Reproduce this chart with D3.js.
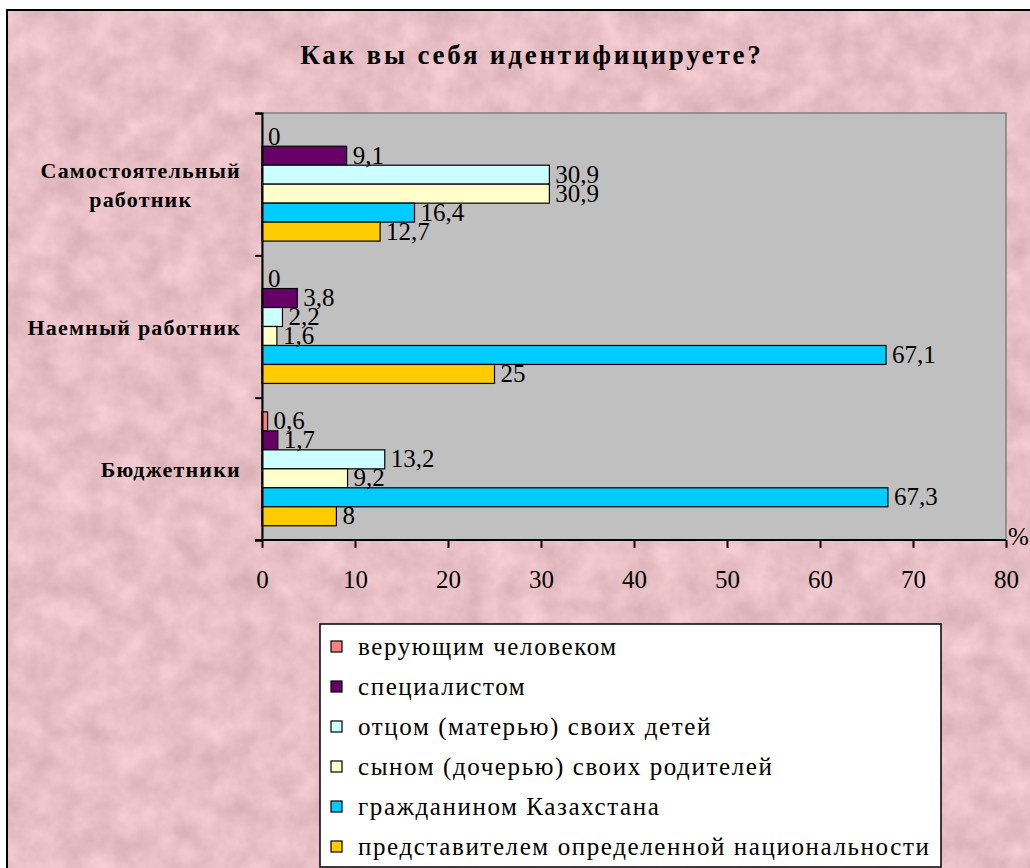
<!DOCTYPE html>
<html>
<head>
<meta charset="utf-8">
<script src="https://cdn.jsdelivr.net/npm/d3@7"></script>
<style>
  body { margin: 0; background: #fff; }
  svg { display: block; }
</style>
</head>
<body>
<div id="chart"></div>
<script>
(function () { 'use strict';

// ---- data ----
var categories = [['Самостоятельный', 'работник'], ['Наемный работник'], ['Бюджетники']];
var seriesNames = [
	'верующим человеком',
	'специалистом',
	'отцом (матерью) своих детей',
	'сыном (дочерью) своих родителей',
	'гражданином Казахстана',
	'представителем определенной национальности'
];
var seriesColors = ['#ff8080', '#660066', '#ccffff', '#ffffcc', '#00ccff', '#ffcc00'];
var selfEmployed = [0, 9.1, 30.9, 30.9, 16.4, 12.7];
var employed     = [0, 3.8, 2.2, 1.6, 67.1, 25];
var budget       = [0.6, 1.7, 13.2, 9.2, 67.3, 8];
var xTicks = [0, 10, 20, 30, 40, 50, 60, 70, 80];
var title = 'Как вы себя идентифицируете?';

var values = [selfEmployed, employed, budget];

var W = 1030, H = 868,
	plot = { left: 262, top: 113, right: 1006, bottom: 540 },
	serif = '"Liberation Serif", Tinos, "Times New Roman", serif';

var svg = d3.select('#chart')
	.append('svg')
		.attr('width', W)
		.attr('height', H)
		.attr('font-family', serif);

// paper texture
var defs = svg.append('defs');
var filter = defs.append('filter')
	.attr('id', 'paper')
	.attr('color-interpolation-filters', 'sRGB')
	.attr('x', 0).attr('y', 0).attr('width', '100%').attr('height', '100%');
filter.append('feTurbulence')
	.attr('type', 'fractalNoise')
	.attr('baseFrequency', 0.035)
	.attr('numOctaves', 4)
	.attr('seed', 11);
filter.append('feColorMatrix')
	.attr('type', 'matrix')
	.attr('values',
		'0.16 0 0 0 0.83 ' +
		'0.16 0 0 0 0.67 ' +
		'0.16 0 0 0 0.69 ' +
		'0 0 0 0 1');

svg.append('rect')
	.attr('x', 7).attr('y', 10)
	.attr('width', W).attr('height', H)
	.attr('filter', 'url(#paper)');
svg.append('rect')
	.attr('x', 7).attr('y', 10)
	.attr('width', W).attr('height', H)
	.attr('fill', 'none')
	.attr('stroke', '#000')
	.attr('stroke-width', 2);

// title
svg.append('text')
	.attr('x', 532)
	.attr('y', 64)
	.attr('text-anchor', 'middle')
	.attr('font-size', 27)
	.attr('font-weight', 'bold')
	.attr('letter-spacing', 2.8)
	.text(title);

// scales
var x = d3.scaleLinear().domain([0, 80]).range([plot.left, plot.right]);
var y0 = d3.scaleBand()
	.domain(d3.range(categories.length))
	.range([plot.top, plot.bottom]);
var y1 = d3.scaleBand()
	.domain(d3.range(seriesNames.length))
	.range([0, y0.bandwidth()])
	.paddingOuter(0.75);

// plot area
svg.append('rect')
	.attr('x', plot.left).attr('y', plot.top)
	.attr('width', plot.right - plot.left)
	.attr('height', plot.bottom - plot.top)
	.attr('fill', '#c0c0c0')
	.attr('stroke', '#808080')
	.attr('stroke-width', 1.5);

// bars
var groups = svg.selectAll('g.group')
	.data(values)
	.enter().append('g')
		.attr('class', 'group')
		.attr('transform', function (d, i) { return 'translate(0,' + y0(i) + ')'; });

groups.selectAll('rect.bar')
	.data(function (d) { return d; })
	.enter().append('rect')
		.attr('class', 'bar')
		.attr('x', x(0))
		.attr('y', function (d, j) { return y1(j); })
		.attr('width', function (d) { return x(d) - x(0); })
		.attr('height', y1.bandwidth())
		.attr('fill', function (d, j) { return seriesColors[j]; })
		.attr('stroke', function (d) { return d > 0 ? '#000' : 'none'; })
		.attr('stroke-width', 1.2);

groups.selectAll('text.value')
	.data(function (d) { return d; })
	.enter().append('text')
		.attr('class', 'value')
		.attr('x', function (d) { return x(d) + 6; })
		.attr('y', function (d, j) { return y1(j) + y1.bandwidth() / 2 + 8; })
		.attr('font-size', 25)
		.text(function (d) { return String(d).replace('.', ','); });

// axes
var xAxis = svg.append('g')
	.attr('transform', 'translate(0,' + plot.bottom + ')')
	.call(d3.axisBottom(x).tickValues(xTicks).tickSize(8).tickPadding(22));
var yAxis = svg.append('g')
	.attr('transform', 'translate(' + plot.left + ',0)')
	.call(d3.axisLeft(d3.scaleLinear().domain([0, 3]).range([plot.bottom, plot.top]))
		.ticks(3).tickSize(7).tickFormat(''));

[xAxis, yAxis].forEach(function (ax) {
	ax.attr('font-family', serif);
	ax.select('.domain').attr('stroke', '#000').attr('stroke-width', 2);
	ax.selectAll('.tick line').attr('stroke', '#000').attr('stroke-width', 2);
});
xAxis.select('.domain').attr('d', 'M' + (plot.left - 6) + ',0H' + plot.right);
xAxis.selectAll('.tick text')
	.attr('font-size', 25)
	.attr('fill', '#000');
xAxis.selectAll('.tick line').attr('y1', 0);

svg.append('text')
	.attr('x', 1008)
	.attr('y', 545)
	.attr('font-size', 25)
	.text('%');

// category labels
var catLabels = svg.selectAll('text.cat')
	.data(categories)
	.enter().append('text')
		.attr('class', 'cat')
		.attr('text-anchor', 'middle')
		.attr('font-size', 22)
		.attr('font-weight', 'bold')
		.attr('letter-spacing', 1.2)
		.attr('transform', function (d, i) {
			return 'translate(0,' + (y0(i) + y0.bandwidth() / 2) + ')';
		});
catLabels.each(function (lines) {
	var t = d3.select(this);
	lines.forEach(function (line, k) {
		t.append('tspan')
			.attr('x', 0)
			.attr('y', (k - (lines.length - 1) / 2) * 29 + 8)
			.text(line);
	});
	var w = this.getBBox().width;
	t.selectAll('tspan').attr('x', 241 - w / 2);
});

// legend
var legend = svg.append('g').attr('transform', 'translate(320,624)');
legend.append('rect')
	.attr('width', 621).attr('height', 243)
	.attr('fill', '#fff')
	.attr('stroke', '#000')
	.attr('stroke-width', 1.5);
var items = legend.selectAll('g.item')
	.data(seriesNames)
	.enter().append('g')
		.attr('class', 'item')
		.attr('transform', function (d, i) { return 'translate(11,' + (23 + i * 40) + ')'; });
items.append('rect')
	.attr('x', 0).attr('y', -6)
	.attr('width', 11).attr('height', 11)
	.attr('fill', function (d, i) { return seriesColors[i]; })
	.attr('stroke', '#000')
	.attr('stroke-width', 1.2);
items.append('text')
	.attr('x', 27)
	.attr('y', 8)
	.attr('font-size', 25)
	.attr('letter-spacing', 1.6)
	.text(function (d) { return d; });

})();
</script>
</body>
</html>
